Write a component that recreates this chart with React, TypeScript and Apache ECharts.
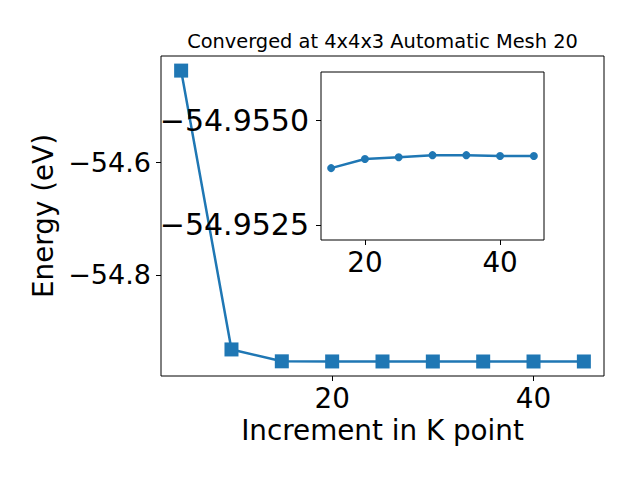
import React, { useEffect, useRef } from "react";
import * as echarts from "echarts";

const kPoints = [5, 10, 15, 20, 25, 30, 35, 40, 45];
const energies = [-54.436, -54.9327, -54.95386, -54.95408, -54.95412, -54.95417, -54.95417, -54.95415, -54.95415];
const insetK = [15, 20, 25, 30, 35, 40, 45];
const insetEnergies = [-54.95386, -54.95408, -54.95412, -54.95417, -54.95417, -54.95415, -54.95415];
const mainXTicks = [20, 40];
const mainYTicks = [-54.8, -54.6];
const insetXTicks = [20, 40];
const insetYTicks = [-54.955, -54.9525];

const titleText = "Converged at 4x4x3 Automatic Mesh 20";
const xName = "Increment in K point";
const yName = "Energy (eV)";

const FONT = "DejaVu Sans";
const BLUE = "#1f77b4";
const minus = (s: string) => s.replace("-", "\u2212");

export default function App() {
  const ref = useRef<HTMLDivElement>(null);
  useEffect(() => {
    if (!ref.current) return;
    const chart = echarts.init(ref.current, undefined, { renderer: "svg" });
    const tickStyle = { show: true, length: 5, lineStyle: { color: "#000", width: 1 } };
    const labelBase = { color: "#000", fontSize: 27.8, fontFamily: FONT };
    chart.setOption({
      animation: false,
      backgroundColor: "#fff",
      title: {
        text: titleText,
        left: 382.5,
        top: 32,
        padding: 0,
        textAlign: "center",
        textStyle: { fontSize: 19.4, fontWeight: "normal", color: "#000", fontFamily: FONT },
      },
      grid: [
        { left: 161, top: 56, width: 443, height: 320, show: true, borderColor: "#000", borderWidth: 1, backgroundColor: "transparent" },
        { left: 321, top: 72, width: 223, height: 168, show: true, borderColor: "#000", borderWidth: 1, backgroundColor: "#fff", z: 5 },
      ],
      xAxis: [
        {
          type: "value", gridIndex: 0, min: 3, max: 47,
          axisLine: { show: false }, splitLine: { show: false },
          axisTick: { ...tickStyle, customValues: mainXTicks },
          axisLabel: { ...labelBase, margin: 8, customValues: mainXTicks, formatter: (v: number) => String(v) },
          name: xName, nameLocation: "middle", nameGap: 54,
          nameTextStyle: { ...labelBase, verticalAlign: "middle" },
        },
        {
          type: "value", gridIndex: 1, min: 13.5, max: 46.5, z: 6,
          axisLine: { show: false }, splitLine: { show: false },
          axisTick: { ...tickStyle, customValues: insetXTicks },
          axisLabel: { ...labelBase, margin: 8, customValues: insetXTicks, formatter: (v: number) => String(v) },
        },
      ],
      yAxis: [
        {
          type: "value", gridIndex: 0, min: -54.98, max: -54.41,
          axisLine: { show: false }, splitLine: { show: false },
          axisTick: { ...tickStyle, customValues: mainYTicks },
          axisLabel: { ...labelBase, fontSize: 27, margin: 10, customValues: mainYTicks, formatter: (v: number) => minus(v.toFixed(1)) },
          name: yName, nameLocation: "middle", nameGap: 108, nameRotate: 90,
          nameTextStyle: { ...labelBase, verticalAlign: "middle" },
        },
        {
          type: "value", gridIndex: 1, min: -54.95616, max: -54.95214, inverse: true, z: 6,
          axisLine: { show: false }, splitLine: { show: false },
          axisTick: { ...tickStyle, customValues: insetYTicks },
          axisLabel: { ...labelBase, fontSize: 30, margin: 12, customValues: insetYTicks, formatter: (v: number) => minus(v.toFixed(4)) },
        },
      ],
      series: [
        {
          type: "line", xAxisIndex: 0, yAxisIndex: 0,
          data: kPoints.map((k, i) => [k, energies[i]]),
          symbol: "rect", symbolSize: 14,
          lineStyle: { color: BLUE, width: 2.5 },
          itemStyle: { color: BLUE },
          z: 2,
        },
        {
          type: "line", xAxisIndex: 1, yAxisIndex: 1,
          data: insetK.map((k, i) => [k, insetEnergies[i]]),
          symbol: "circle", symbolSize: 8,
          lineStyle: { color: BLUE, width: 2.5 },
          itemStyle: { color: BLUE },
          z: 10,
        },
      ],
    });
    return () => chart.dispose();
  }, []);
  return <div ref={ref} style={{ position: "absolute", left: 0, top: 0, width: 640, height: 480 }} />;
}
